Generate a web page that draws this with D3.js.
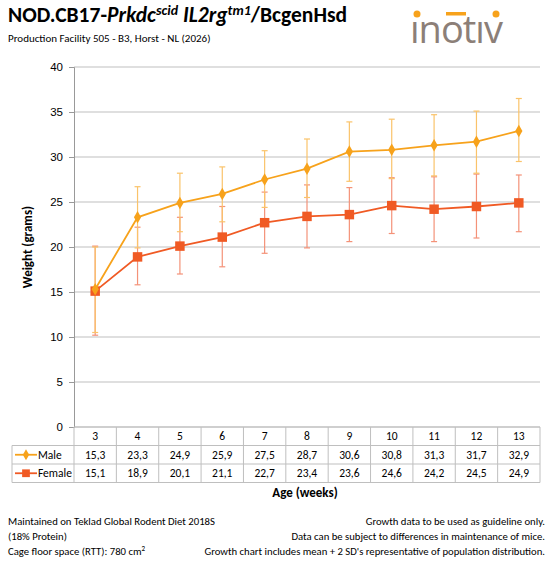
<!DOCTYPE html>
<html><head><meta charset="utf-8">
<script src="https://cdn.jsdelivr.net/npm/d3@7"></script>
<style>body{margin:0;background:#fff}svg{font-family:Calibri,Carlito,"Open Sans",sans-serif}</style>
</head><body><svg id="c" width="550" height="564"></svg>
<script>
const weeks=[3,4,5,6,7,8,9,10,11,12,13];
const male=[15.3,23.3,24.9,25.9,27.5,28.7,30.6,30.8,31.3,31.7,32.9];
const maleHi=[20.0,26.7,28.2,28.9,30.7,32.0,33.9,34.2,34.7,35.1,36.5];
const maleLo=[10.5,19.9,21.7,22.8,24.4,25.5,27.3,27.6,27.9,28.2,29.5];
const female=[15.1,18.9,20.1,21.1,22.7,23.4,23.6,24.6,24.2,24.5,24.9];
const femaleHi=[20.1,22.2,23.3,24.5,26.1,26.9,26.6,27.7,27.8,28.1,28.0];
const femaleLo=[10.2,15.8,17.0,17.8,19.3,19.9,20.6,21.5,20.6,21.0,21.7];
const yTicks=[0,5,10,15,20,25,30,35,40];
const fmt=v=>v.toFixed(1).replace('.',',');

const svg=d3.select('#c');
const L=74,R=540,T=67,B=427;
const x=d3.scaleBand().domain(weeks).range([L,R]);
const y=d3.scaleLinear().domain([0,40]).range([B,T]);
const grey='#BFBFBF';
svg.append('g').selectAll('line').data(yTicks).join('line')
 .attr('x1',L).attr('x2',R).attr('y1',d=>y(d)).attr('y2',d=>y(d)).attr('stroke',grey).attr('stroke-width',1);
const ya=svg.append('g').attr('transform',`translate(${L},0)`).call(d3.axisLeft(y).tickValues(yTicks).tickSize(5).tickPadding(6));
ya.select('.domain').attr('stroke','#999');ya.selectAll('.tick line').attr('stroke','#999');
ya.selectAll('text').attr('font-size',11.5).attr('fill','#000');
const series=[
 {name:'Male',v:male,hi:maleHi,lo:maleLo,c:'#F7A21B',e:'#FAC36A',shape:'diamond'},
 {name:'Female',v:female,hi:femaleHi,lo:femaleLo,c:'#F05A24',e:'#F49278',shape:'square'}];
const cx=w=>x(w)+x.bandwidth()/2;
series.slice().reverse().forEach(s=>{
 const g=svg.append('g');
 weeks.forEach((w,i)=>{
  g.append('line').attr('x1',cx(w)).attr('x2',cx(w)).attr('y1',y(s.hi[i])).attr('y2',y(s.lo[i])).attr('stroke',s.e).attr('stroke-width',1.2);
  [s.hi[i],s.lo[i]].forEach(v=>g.append('line').attr('x1',cx(w)-3).attr('x2',cx(w)+3).attr('y1',y(v)).attr('y2',y(v)).attr('stroke',s.e).attr('stroke-width',1.2));
 });
});
series.slice().reverse().forEach(s=>{
 const g=svg.append('g');
 g.append('path').datum(s.v).attr('fill','none').attr('stroke',s.c).attr('stroke-width',1.8)
  .attr('d',d3.line().x((d,i)=>cx(weeks[i])).y(d=>y(d)));
 g.selectAll('path.m').data(s.v).join('path').attr('class','m')
  .attr('transform',(d,i)=>`translate(${cx(weeks[i])},${y(d)})`)
  .attr('d',d3.symbol().type(s.shape==='square'?d3.symbolSquare:d3.symbolDiamond).size(s.shape==='square'?90:45)).attr('fill',s.c);
});
const rowH=18.5, tL=12;
const tg=svg.append('g').attr('stroke','#BFBFBF').attr('fill','none');
const rows=[B,B+rowH,B+2*rowH,B+3*rowH];
tg.append('line').attr('x1',L).attr('x2',R).attr('y1',rows[0]).attr('y2',rows[0]);
rows.slice(1).forEach(r=>tg.append('line').attr('x1',tL).attr('x2',R).attr('y1',r).attr('y2',r));
weeks.forEach(w=>tg.append('line').attr('x1',x(w)).attr('x2',x(w)).attr('y1',rows[0]).attr('y2',rows[3]));
tg.append('line').attr('x1',R).attr('x2',R).attr('y1',rows[0]).attr('y2',rows[3]);
tg.append('line').attr('x1',tL).attr('x2',tL).attr('y1',rows[1]).attr('y2',rows[3]);
const tt=svg.append('g').attr('font-size',11.5).attr('text-anchor','middle').attr('fill','#000');
weeks.forEach((w,i)=>{
 tt.append('text').attr('x',cx(w)).attr('y',rows[0]+13).text(w);
 tt.append('text').attr('x',cx(w)).attr('y',rows[1]+13).text(fmt(male[i]));
 tt.append('text').attr('x',cx(w)).attr('y',rows[2]+13).text(fmt(female[i]));
});
series.forEach((s,k)=>{
 const yy=rows[1+k]+rowH/2;
 svg.append('line').attr('x1',tL+3).attr('x2',tL+25).attr('y1',yy).attr('y2',yy).attr('stroke',s.c).attr('stroke-width',1.8);
 svg.append('path').attr('transform',`translate(${tL+14},${yy})`).attr('d',d3.symbol().type(s.shape==='square'?d3.symbolSquare:d3.symbolDiamond).size(s.shape==='square'?60:35)).attr('fill',s.c);
 svg.append('text').attr('x',tL+26).attr('y',yy+4).attr('font-size',11.5).text(s.name);
});
svg.append('text').attr('x',305).attr('y',497).attr('text-anchor','middle').attr('font-size',13).attr('font-weight','bold').text('Age (weeks)');
svg.append('text').attr('transform','translate(32,247) rotate(-90)').attr('text-anchor','middle').attr('font-size',13).attr('font-weight','bold').text('Weight (grams)');
const ti=svg.append('text').attr('x',8).attr('y',22).attr('font-size',21.5).attr('font-weight','bold');
ti.append('tspan').text('NOD.CB17-');
ti.append('tspan').attr('font-style','italic').text('Prkdc');
ti.append('tspan').attr('font-style','italic').attr('font-size',14).attr('dy',-7).text('scid');
ti.append('tspan').attr('font-style','italic').attr('dy',7).text(' IL2rg');
ti.append('tspan').attr('font-style','italic').attr('font-size',14).attr('dy',-7).text('tm1');
ti.append('tspan').attr('dy',7).text('/BcgenHsd');
svg.append('text').attr('x',8).attr('y',42).attr('font-size',11).text('Production Facility 505 - B3, Horst - NL (2026)');
svg.append('text').attr('x',410).attr('y',43).attr('font-size',38).attr('fill','#8C7F78').attr('font-family','"Open Sans",sans-serif').attr('letter-spacing',-1).text('ınotıv');
svg.append('circle').attr('cx',417).attr('cy',14).attr('r',3.5).attr('fill','#F7A21B');
svg.append('circle').attr('cx',496).attr('cy',14).attr('r',3.5).attr('fill','#F7A21B');
svg.append('rect').attr('x',446).attr('y',12).attr('width',20).attr('height',3.5).attr('fill','#F7A21B');
const f=svg.append('g').attr('font-size',10.7).attr('fill','#000');
f.append('text').attr('x',8).attr('y',525).text('Maintained on Teklad Global Rodent Diet 2018S');
f.append('text').attr('x',8).attr('y',540).text('(18% Protein)');
const cf=f.append('text').attr('x',8).attr('y',555).text('Cage floor space (RTT): 780 cm');
cf.append('tspan').attr('font-size',7).attr('dy',-4).text('2');
f.append('text').attr('x',545).attr('y',525).attr('text-anchor','end').text('Growth data to be used as guideline only.');
f.append('text').attr('x',545).attr('y',540).attr('text-anchor','end').text('Data can be subject to differences in maintenance of mice.');
f.append('text').attr('x',545).attr('y',555).attr('text-anchor','end').text("Growth chart includes mean + 2 SD's representative of population distribution.");
</script></body></html>
